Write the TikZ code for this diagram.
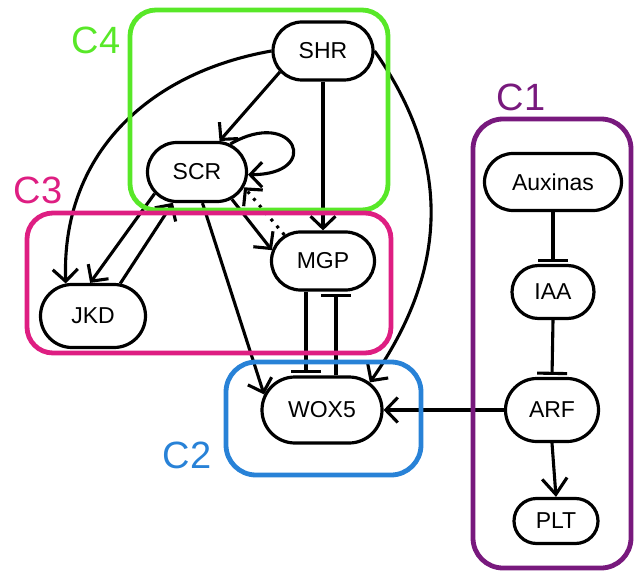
\documentclass[tikz,border=0pt]{standalone}
\usepackage{fontspec}
\setmainfont{Liberation Sans}
\usetikzlibrary{arrows.meta,shapes.misc}

\definecolor{cgreen}{RGB}{88,232,40}
\definecolor{cmagenta}{RGB}{222,30,130}
\definecolor{cblue}{RGB}{40,130,215}
\definecolor{cpurple}{RGB}{120,25,125}

\tikzset{
  gene/.style={rounded rectangle, draw=black, line width=3.2pt, fill=white,
    inner sep=0pt, font=\fontsize{23}{23}\selectfont},
  act/.style={line width=3.1pt, -{Straight Barb[length=12pt,width=25pt,line width=3.1pt]}},
  inh/.style={line width=3.1pt, -{Bar[width=30pt,line width=3.1pt]}, shorten >=2pt},
  module/.style={line width=4.8pt, rounded corners=26pt},
  modlabel/.style={font=\fontsize{38}{38}\selectfont}
}

\begin{document}
\begin{tikzpicture}[x=1pt,y=1pt]
\useasboundingbox (0,0) rectangle (634,574);

% genes
\node[gene, minimum width=100pt, minimum height=58pt] (SHR)  at (323,523) {SHR};
\node[gene, minimum width=99pt,  minimum height=59pt] (SCR)  at (197,402) {SCR};
\node[gene, minimum width=103pt, minimum height=58pt] (MGP)  at (323,313) {MGP};
\node[gene, minimum width=105pt, minimum height=63pt] (JKD)  at (93,258)  {JKD};
\node[gene, minimum width=120pt, minimum height=66pt] (WOX5) at (322,164) {WOX5};
\node[gene, minimum width=137pt, minimum height=57pt] (AUX)  at (553,392) {Auxinas};
\node[gene, minimum width=82pt,  minimum height=53pt] (IAA)  at (553,282) {IAA};
\node[gene, minimum width=93pt,  minimum height=63pt] (ARF)  at (552,164) {ARF};
\node[gene, minimum width=84pt,  minimum height=45pt] (PLT)  at (556,53)  {PLT};

% regulatory links
\draw[act] (SHR.206) -- (SCR.54);
\draw[act] (SHR.west) to[out=190,in=92,looseness=1.05] (JKD.130);
\draw[act] (SHR.south) -- (MGP.north);
\draw[act] (SHR.east) to[out=-55,in=55,looseness=1.05] (WOX5.30);
\draw[act] (SCR.40) .. controls +(30:75) and +(0:75) .. (SCR.-3);
\draw[act] (SCR.207) -- (JKD.95);
\draw[act] (JKD.50) -- (SCR.232);
\draw[act] (SCR.-38) -- (MGP.168);
\draw[act, dash pattern=on 3pt off 6pt] (MGP.146) -- (SCR.-18);
\draw[act] (SCR.-80) -- (WOX5.165);
\draw[inh] ([xshift=-17pt]MGP.south) -- ([xshift=-17pt]MGP.south |- WOX5.north);
\draw[inh] ([xshift=14pt]WOX5.north) -- ([xshift=14pt]WOX5.north |- MGP.south);
\draw[act] (ARF.west) -- (WOX5.east);
\draw[inh] (AUX.south) -- (IAA.north);
\draw[inh] (IAA.south) -- (ARF.north);
\draw[line width=3.1pt, -{Straight Barb[length=16pt,width=25pt,line width=3.1pt]}] (ARF.south) -- (PLT.north);

% modules
\draw[module, cgreen]   (130,364) rectangle (388,564);
\draw[module, cmagenta] (27,221)  rectangle (391,361);
\draw[module, cblue, rounded corners=30pt] (226,99) rectangle (421,212);
\draw[module, cpurple, rounded corners=30pt] (473,6) rectangle (631,455);

\node[modlabel, text=cgreen]   (L4) at (96,534)  {C4};
\node[modlabel, text=cmagenta] (L3) at (38,384)  {C3};
\node[modlabel, text=cblue]    (L2) at (187,119) {C2};
\node[modlabel, text=cpurple]  (L1) at (521,477) {C1};
\end{tikzpicture}
\end{document}
